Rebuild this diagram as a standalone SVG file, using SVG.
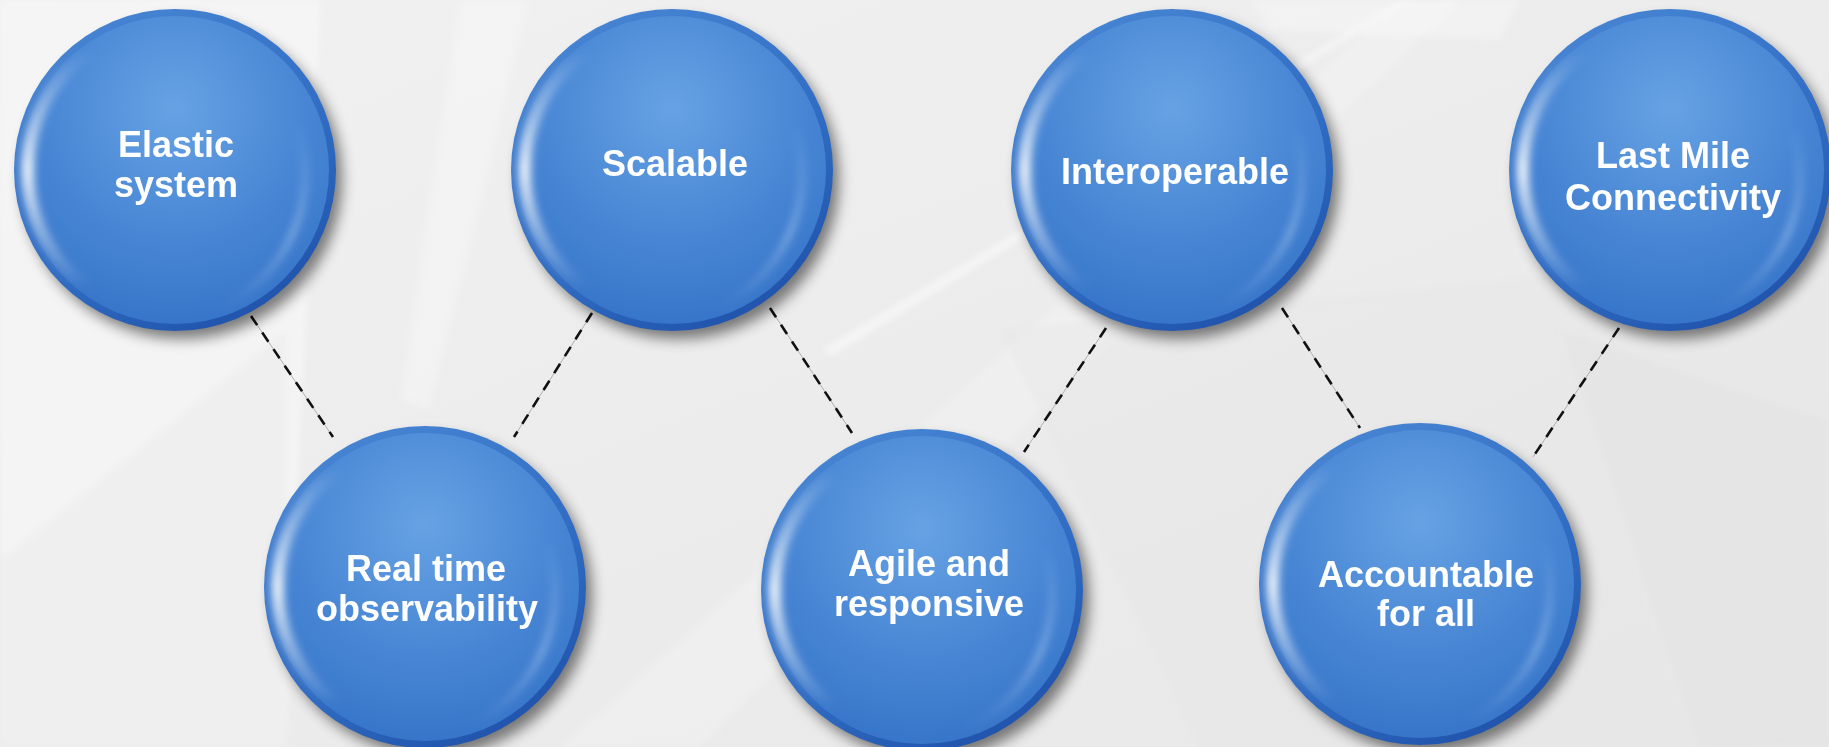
<svg xmlns="http://www.w3.org/2000/svg" xmlns:xlink="http://www.w3.org/1999/xlink" width="1829" height="747" viewBox="0 0 1829 747">
<style>
.lbl{font-family:"Liberation Sans",Arial,Helvetica,sans-serif;font-weight:bold;font-size:36px;fill:#ffffff;text-anchor:middle}
.dash{stroke:#111;stroke-width:2.6;stroke-dasharray:11 9;fill:none}
.thin{stroke:#a0a0a0;stroke-width:0.8;fill:none}
</style>
<defs>
<linearGradient id="bgG" x1="0" y1="0" x2="1" y2="1">
<stop offset="0" stop-color="#f1f1f1"/>
<stop offset="0.5" stop-color="#ececec"/>
<stop offset="1" stop-color="#e8e8e8"/>
</linearGradient>
<linearGradient id="rimG" x1="0.2" y1="0" x2="0.8" y2="1">
<stop offset="0" stop-color="#4886d4"/>
<stop offset="0.6" stop-color="#2f6bc2"/>
<stop offset="1" stop-color="#1f50a8"/>
</linearGradient>
<radialGradient id="faceG" cx="0.5" cy="0.3" r="0.75">
<stop offset="0" stop-color="#66a2e3"/>
<stop offset="0.55" stop-color="#4987d5"/>
<stop offset="1" stop-color="#3472c7"/>
</radialGradient>
<linearGradient id="hiG" x1="0" y1="0" x2="0" y2="1">
<stop offset="0" stop-color="#fff" stop-opacity="0"/>
<stop offset="0.5" stop-color="#fff" stop-opacity="0.9"/>
<stop offset="1" stop-color="#fff" stop-opacity="0"/>
</linearGradient>
<linearGradient id="hiG2" x1="0" y1="0" x2="0" y2="1">
<stop offset="0" stop-color="#c4dbf6" stop-opacity="0"/>
<stop offset="0.6" stop-color="#c4dbf6" stop-opacity="0.6"/>
<stop offset="1" stop-color="#c4dbf6" stop-opacity="0"/>
</linearGradient>
<filter id="shadowF" x="-30%" y="-30%" width="160%" height="160%">
<feGaussianBlur stdDeviation="7"/>
</filter>
<filter id="softF" x="-30%" y="-30%" width="160%" height="160%">
<feGaussianBlur stdDeviation="4"/>
</filter>
<filter id="bgBlur" x="-10%" y="-10%" width="120%" height="120%">
<feGaussianBlur stdDeviation="3"/>
</filter>
<g id="btn">
<circle cx="7" cy="9" r="160" fill="#000" opacity="0.5" filter="url(#shadowF)"/>
<circle cx="0" cy="0" r="161" fill="url(#rimG)"/>
<circle cx="0" cy="0" r="154" fill="url(#faceG)"/>
<path d="M -88 -118 A 147 147 0 0 0 -88 118" fill="none" stroke="url(#hiG)" stroke-width="12" filter="url(#softF)"/>
<path d="M 122 -45 A 148 148 0 0 1 45 138" fill="none" stroke="url(#hiG2)" stroke-width="5" filter="url(#softF)"/>
</g>
</defs>

<g id="background">
<rect x="0" y="0" width="1829" height="747" fill="url(#bgG)"/>
<g filter="url(#bgBlur)">
<polygon points="0,0 321,0 286,747 0,747" fill="#f7f7f7" opacity="0.7"/>
<polygon points="0,560 286,330 286,747 0,747" fill="#e6e6e6" opacity="0.4"/>
<polygon points="459,0 530,0 430,410 400,400" fill="#f8f8f8" opacity="0.5"/>
<polygon points="560,747 1400,0 1460,0 700,747" fill="#f4f4f4" opacity="0.45"/>
<polygon points="821,350 1400,0 1412,0 832,356" fill="#ffffff" opacity="0.45"/>
<polygon points="1250,0 1520,0 1500,40 1270,30" fill="#f8f8f8" opacity="0.5"/>
<polygon points="1000,330 1829,250 1829,747 1200,747" fill="#e4e4e4" opacity="0.3"/>
<polygon points="1560,330 1829,420 1829,747 1700,747" fill="#e0e0e0" opacity="0.35"/>
</g>
</g>

<g id="connectors">
<line class="thin" x1="251" y1="316" x2="333" y2="437"/>
<line class="dash" x1="251" y1="316" x2="333" y2="437"/>
<line class="thin" x1="592" y1="313" x2="514" y2="437"/>
<line class="dash" x1="592" y1="313" x2="514" y2="437"/>
<line class="thin" x1="770" y1="308" x2="852" y2="433"/>
<line class="dash" x1="770" y1="308" x2="852" y2="433"/>
<line class="thin" x1="1106" y1="328" x2="1024" y2="452"/>
<line class="dash" x1="1106" y1="328" x2="1024" y2="452"/>
<line class="thin" x1="1282" y1="308" x2="1360" y2="428"/>
<line class="dash" x1="1282" y1="308" x2="1360" y2="428"/>
<line class="thin" x1="1619" y1="328" x2="1533" y2="457"/>
<line class="dash" x1="1619" y1="328" x2="1533" y2="457"/>
</g>

<g id="node-elastic">
<use xlink:href="#btn" href="#btn" x="175" y="170"/>
<text class="lbl" x="176" y="157">Elastic</text>
<text class="lbl" x="176" y="197">system</text>
</g>
<g id="node-scalable">
<use xlink:href="#btn" href="#btn" x="672" y="170"/>
<text class="lbl" x="675" y="176">Scalable</text>
</g>
<g id="node-interoperable">
<use xlink:href="#btn" href="#btn" x="1172" y="170"/>
<text class="lbl" x="1175" y="184">Interoperable</text>
</g>
<g id="node-lastmile">
<use xlink:href="#btn" href="#btn" x="1670" y="170"/>
<text class="lbl" x="1673" y="168">Last Mile</text>
<text class="lbl" x="1673" y="210">Connectivity</text>
</g>
<g id="node-realtime">
<use xlink:href="#btn" href="#btn" x="425" y="587"/>
<text class="lbl" x="426" y="581">Real time</text>
<text class="lbl" x="427" y="621">observability</text>
</g>
<g id="node-agile">
<use xlink:href="#btn" href="#btn" x="922" y="590"/>
<text class="lbl" x="929" y="576">Agile and</text>
<text class="lbl" x="929" y="616">responsive</text>
</g>
<g id="node-accountable">
<use xlink:href="#btn" href="#btn" x="1420" y="584"/>
<text class="lbl" x="1426" y="587">Accountable</text>
<text class="lbl" x="1426" y="626">for all</text>
</g>
</svg>
